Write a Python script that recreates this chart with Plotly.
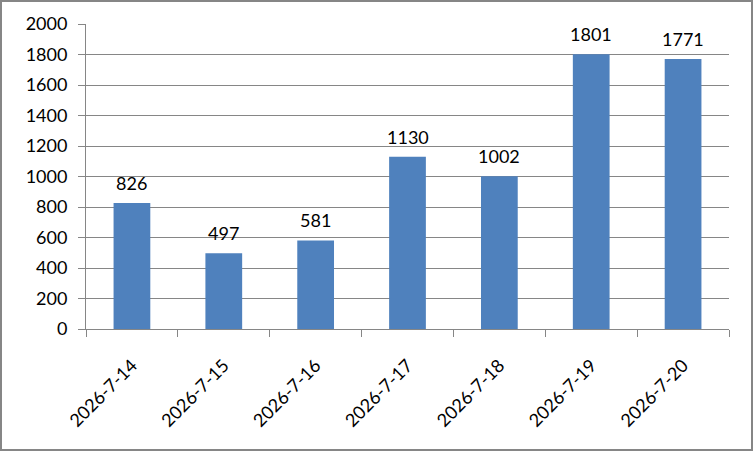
import plotly.graph_objects as go

# données
dates = ["2026-7-14", "2026-7-15", "2026-7-16", "2026-7-17", "2026-7-18", "2026-7-19", "2026-7-20"]
valeurs = [826, 497, 581, 1130, 1002, 1801, 1771]
y_ticks = list(range(0, 2001, 200))

W, H = 753, 451
ml, mr, mt, mb = 86, 24, 24, 122
pw, ph = W - ml - mr, H - mt - mb

police = "Lato, 'Liberation Sans', sans-serif"
gris = "#868686"

fig = go.Figure(go.Bar(
    x=dates,
    y=valeurs,
    marker=dict(color="#4F81BD", line=dict(width=0)),
    hoverinfo="x+y",
))

# étiquettes de valeurs au-dessus des barres
for d, v in zip(dates, valeurs):
    fig.add_annotation(
        x=d, y=v, text=str(v),
        showarrow=False,
        yanchor="bottom",
        yshift=7,
        font=dict(family=police, size=18, color="black"),
    )

fig.update_layout(
    width=W,
    height=H,
    autosize=False,
    margin=dict(l=ml, r=mr, t=mt, b=mb, autoexpand=False),
    bargap=0.6,
    plot_bgcolor="white",
    paper_bgcolor="white",
    showlegend=False,
    xaxis=dict(
        type="category",
        automargin=False,
        tickangle=-45,
        tickfont=dict(family=police, size=18, color="black"),
        showline=True,
        linecolor=gris,
        linewidth=1,
        ticks="outside",
        tickson="boundaries",
        ticklen=7,
        tickcolor=gris,
        showgrid=False,
        ticklabelstandoff=18,
    ),
    yaxis=dict(
        range=[0, 2000],
        automargin=False,
        tickvals=y_ticks,
        tickfont=dict(family=police, size=18, color="black"),
        showline=True,
        linecolor=gris,
        linewidth=1,
        ticks="outside",
        ticklen=7,
        tickcolor=gris,
        showgrid=True,
        gridcolor=gris,
        gridwidth=1,
        zeroline=False,
        ticklabelstandoff=7,
    ),
    # cadre gris autour de la figure
    shapes=[dict(
        type="rect",
        xref="paper", yref="paper",
        x0=-(ml - 1) / pw, x1=1 + (mr - 1) / pw,
        y0=-(mb - 1) / ph, y1=1 + (mt - 1) / ph,
        line=dict(color=gris, width=2),
        fillcolor="rgba(0,0,0,0)",
    )],
)

# supprimer la marge par défaut du body pour caler la figure dans la fenêtre
fig.write_html("out.html", config={"displayModeBar": False},
               post_script="document.body.style.margin='0';")
